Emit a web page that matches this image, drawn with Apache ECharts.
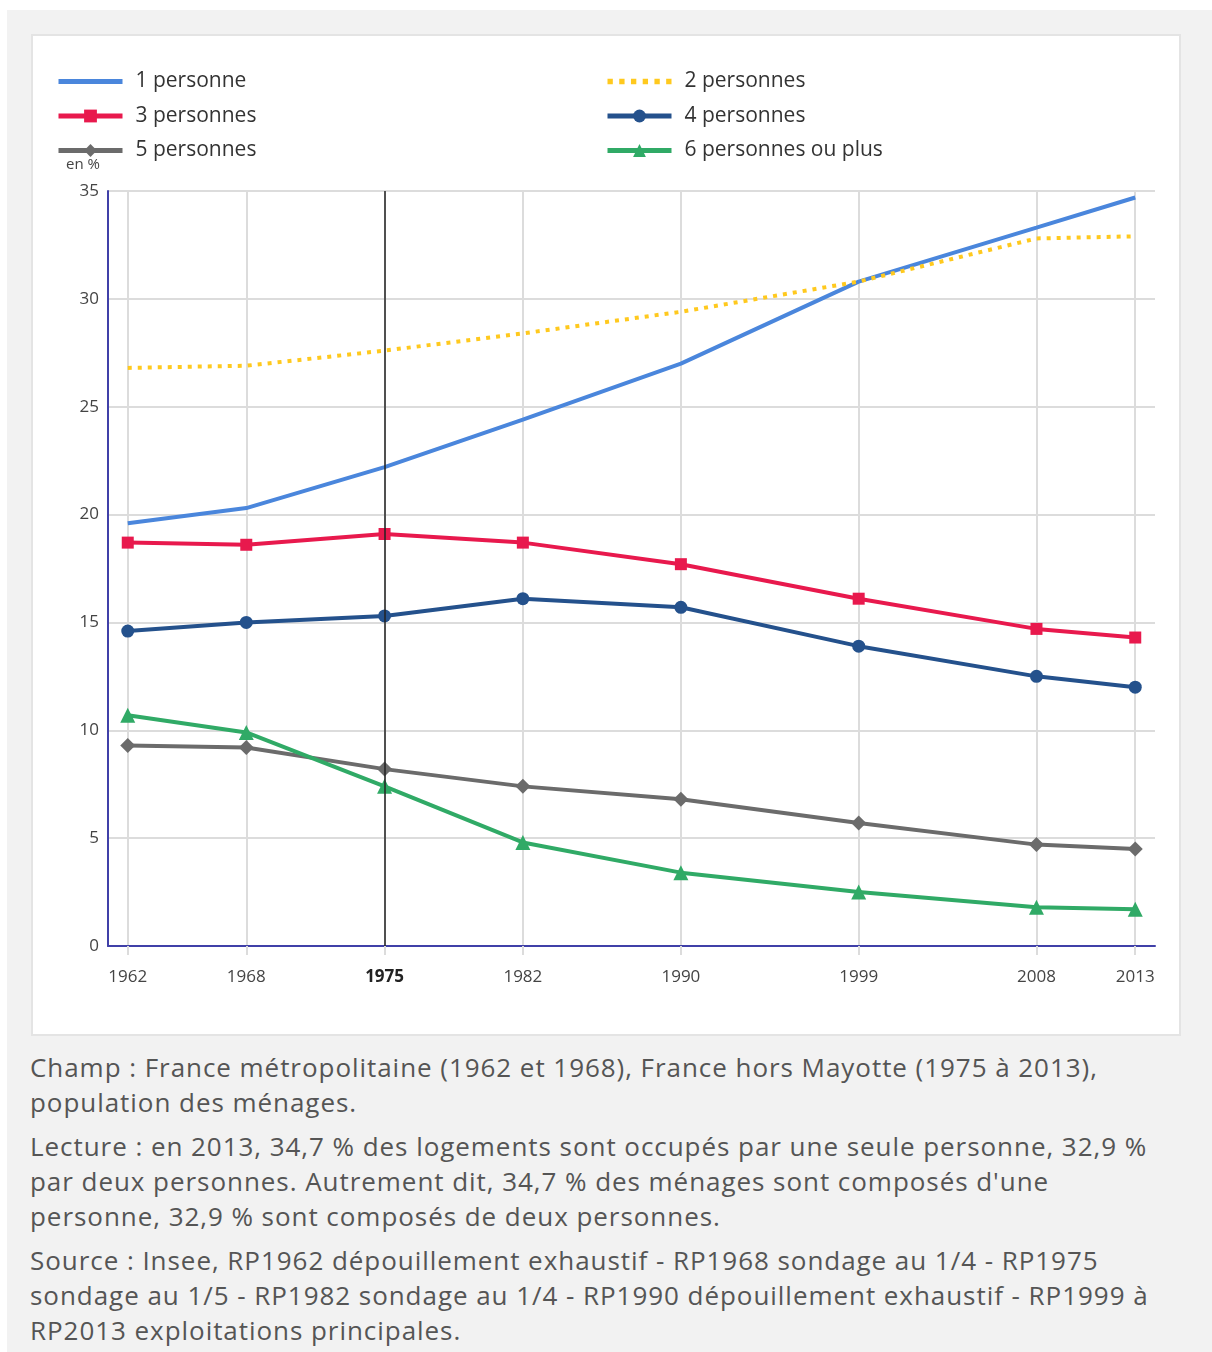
<!DOCTYPE html>
<html>
<head>
<meta charset="utf-8">
<script src="https://cdn.jsdelivr.net/npm/echarts@6/dist/echarts.min.js"></script>
<style>
  html, body { margin: 0; padding: 0; background: #ffffff; }
  #page { position: absolute; left: 7px; top: 10px; width: 1205px; height: 1342px; background: #f2f2f2; }
  #box { position: absolute; left: 31px; top: 34px; width: 1150px; height: 1002px; box-sizing: border-box; background: #fff; border: 2px solid #e4e4e4; }
  #chart { position: absolute; left: 34px; top: 36px; width: 1145px; height: 998px; }
  #notes { position: absolute; left: 30px; top: 1050px; font-family: "Open Sans", sans-serif; font-size: 26px; letter-spacing: 0.95px; color: #555; line-height: 35px; white-space: nowrap; }
  #notes p { margin: 0 0 9px 0; }
</style>
</head>
<body>
<div id="page"></div>
<div id="box"></div>
<div id="chart"></div>
<div id="notes">
  <p>Champ : France métropolitaine (1962 et 1968), France hors Mayotte (1975 à 2013),<br>population des ménages.</p>
  <p>Lecture : en 2013, 34,7 % des logements sont occupés par une seule personne, 32,9 %<br>par deux personnes. Autrement dit, 34,7 % des ménages sont composés d'une<br>personne, 32,9 % sont composés de deux personnes.</p>
  <p>Source : Insee, RP1962 dépouillement exhaustif - RP1968 sondage au 1/4 - RP1975<br>sondage au 1/5 - RP1982 sondage au 1/4 - RP1990 dépouillement exhaustif - RP1999 à<br>RP2013 exploitations principales.</p>
</div>
<script>
const years = [1962, 1968, 1975, 1982, 1990, 1999, 2008, 2013];
const seriesNames = ['1 personne', '2 personnes', '3 personnes', '4 personnes', '5 personnes', '6 personnes ou plus'];
const p1 = [19.6, 20.3, 22.2, 24.4, 27.0, 30.8, 33.3, 34.7];
const p2 = [26.8, 26.9, 27.6, 28.4, 29.4, 30.8, 32.8, 32.9];
const p3 = [18.7, 18.6, 19.1, 18.7, 17.7, 16.1, 14.7, 14.3];
const p4 = [14.6, 15.0, 15.3, 16.1, 15.7, 13.9, 12.5, 12.0];
const p5 = [9.3, 9.2, 8.2, 7.4, 6.8, 5.7, 4.7, 4.5];
const p6 = [10.7, 9.9, 7.4, 4.8, 3.4, 2.5, 1.8, 1.7];
const highlightYear = 1975;

const pair = arr => years.map((y, i) => [y, arr[i]]);
const chart = echarts.init(document.getElementById('chart'), null, { renderer: 'canvas' });
const font = '"Open Sans", sans-serif';
const legendText = { fontSize: 21, color: '#333', fontFamily: font, padding: [0, 0, 0, 8] };
const solidIcon = 'path://M0,0H64V5H0Z';
const dotIcon = 'path://M0,0h5v5h-5z M11,0h5v5h-5z M22,0h5v5h-5z M33,0h5v5h-5z M44,0h5v5h-5z M55,0h5v5h-5z';

function lineSeries(name, data, color, symbol, size, extra) {
  return Object.assign({
    name: name, type: 'line', data: pair(data),
    symbol: symbol, symbolSize: size, showSymbol: symbol !== 'none',
    lineStyle: { color: color, width: 4 },
    itemStyle: { color: color },
    emphasis: { disabled: true },
    animation: false
  }, extra || {});
}

const legendCommon = {
  orient: 'vertical', top: 35, padding: 0,
  itemWidth: 64, itemHeight: 16, itemGap: 13.5,
  textStyle: legendText, selectedMode: false,
  lineStyle: { width: 5 }
};

chart.setOption({
  animation: false,
  grid: { left: 74, right: 24, top: 155, bottom: 88 },
  graphic: [{ type: 'text', left: 32, top: 121, style: { text: 'en %', fontSize: 15, fill: '#444', fontFamily: font } }],
  legend: [
    Object.assign({}, legendCommon, { left: 22,
      data: [{ name: seriesNames[0], icon: solidIcon }, seriesNames[2], seriesNames[4]] }),
    Object.assign({}, legendCommon, { left: 571,
      data: [{ name: seriesNames[1], icon: dotIcon }, seriesNames[3], seriesNames[5]] })
  ],
  xAxis: {
    type: 'value', min: 1961, max: 2014,
    axisLine: { show: true, onZero: false, lineStyle: { color: '#4040a8', width: 2 } },
    axisTick: { show: true, customValues: years, length: 9, lineStyle: { color: '#dcdcdc', width: 2 } },
    axisLabel: {
      customValues: years, margin: 23, fontSize: 17, color: '#444', fontFamily: font,
      formatter: v => v === highlightYear ? '{b|' + v + '}' : String(v),
      rich: { b: { fontWeight: 'bold', fontSize: 17, color: '#222', fontFamily: font } }
    },
    splitLine: { show: true, lineStyle: { color: '#dcdcdc', width: 2 } }
  },
  yAxis: {
    type: 'value', min: 0, max: 35, interval: 5,
    axisLine: { show: true, lineStyle: { color: '#4040a8', width: 2 } },
    axisTick: { show: false },
    axisLabel: { fontSize: 17, color: '#444', fontFamily: font, margin: 9 },
    splitLine: { show: true, lineStyle: { color: '#dcdcdc', width: 2 } }
  },
  series: [
    lineSeries(seriesNames[0], p1, '#4a86dc', 'none', 0, {
      markLine: { silent: true, symbol: 'none', label: { show: false },
        lineStyle: { color: '#222', width: 1.5, type: 'solid' },
        data: [{ xAxis: highlightYear }] }
    }),
    lineSeries(seriesNames[1], p2, '#ffc91e', 'none', 0, { lineStyle: { color: '#ffc91e', width: 4, type: [4, 6] } }),
    lineSeries(seriesNames[2], p3, '#e8194d', 'rect', 12),
    lineSeries(seriesNames[3], p4, '#24518c', 'circle', 13),
    lineSeries(seriesNames[4], p5, '#6b6b6b', 'diamond', 15),
    lineSeries(seriesNames[5], p6, '#30aa66', 'triangle', 15)
  ]
});
</script>
</body>
</html>
